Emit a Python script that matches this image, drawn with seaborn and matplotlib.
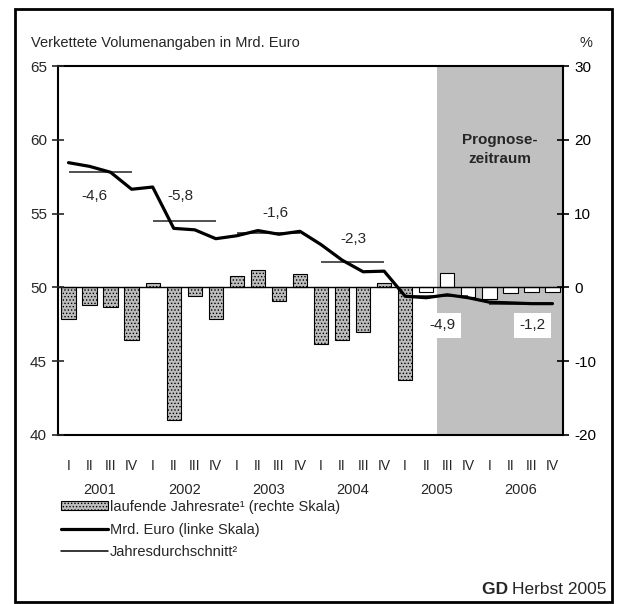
import numpy as np
import pandas as pd
import seaborn as sns
import matplotlib.pyplot as plt
from matplotlib.patches import Patch, Rectangle
from matplotlib.lines import Line2D
import matplotlib.transforms as mtransforms

# data
years = ['2001', '2002', '2003', '2004', '2005', '2006']
quarters = ['I', 'II', 'III', 'IV']
rate = [-4.3, -2.4, -2.6, -7.1,
        0.55, -17.9, -1.2, -4.3,
        1.5, 2.3, -1.8, 1.8,
        -7.7, -7.1, -6.1, 0.55,
        -12.5, -0.6, 2.0, -1.3,
        -1.6, -0.7, -0.6, -0.6]
level = [58.45, 58.2, 57.8, 56.65,
         56.8, 54.0, 53.9, 53.3,
         53.5, 53.85, 53.6, 53.8,
         52.9, 51.85, 51.06, 51.1,
         49.4, 49.3, 49.5, 49.3,
         49.0, 48.95, 48.9, 48.9]
annual_avg = [57.8, 54.5, 53.7, 51.7, 49.4, 48.9]
annual_rate = ['-4,6', '-5,8', '-1,6', '-2,3', '-4,9', '-1,2']
label_x = [1.21, 5.3, 9.81, 13.52, 17.75, 22.03]
label_y = [56.2, 56.2, 55.06, 53.28, 47.45, 47.45]
forecast_start = 18

sns.set_style('white')
plt.rcParams['font.family'] = ['Liberation Sans', 'DejaVu Sans']
plt.rcParams['hatch.linewidth'] = 0.6
plt.rcParams['axes.unicode_minus'] = False

df = pd.DataFrame({'pos': np.arange(24), 'rate': rate, 'level': level})

fig = plt.figure(figsize=(6.17, 6.04), dpi=100)
ax = fig.add_axes([58 / 617, 1 - 435 / 604, 505 / 617, 369 / 604])

# forecast shading
ax.axvspan(forecast_start - 0.5, 23.5, color='#c0c0c0', zorder=0, lw=0)

sns.barplot(data=df, x='pos', y='rate', ax=ax, color='#bdbdbd', width=0.68,
            edgecolor='black', linewidth=0.8, saturation=1, zorder=2)
for i, p in enumerate(ax.patches):
    if i >= forecast_start:
        p.set_facecolor('white')
        p.set_hatch(None)
    else:
        p.set_hatch('.....')
ax.axhline(0, color='black', lw=1, zorder=3)
ax.set_ylim(-20, 30)
ax.set_xlim(-0.5, 23.5)
ax.set_yticks(range(-20, 31, 10))
ax.set_xlabel('')
ax.set_ylabel('')
ax.set_xticks(np.arange(-0.5, 24, 4))
ax.set_xticklabels([])
for s in ax.spines.values():
    s.set_visible(True)
    s.set_color('black')
    s.set_linewidth(1.5)

ax2 = ax.twinx()
sns.lineplot(data=df, x='pos', y='level', ax=ax2, color='black', lw=2.3, zorder=4)
for k, avg in enumerate(annual_avg):
    ax2.hlines(avg, 4 * k, 4 * k + 3, color='#222222', lw=1.1, zorder=3)
ax2.set_ylim(40, 65)
ax2.set_yticks(range(40, 66, 5))
ax2.set_ylabel('')
ax2.set_xlabel('')
for s in ax2.spines.values():
    s.set_visible(False)

# twinx resets sides, so set them afterwards
ax.yaxis.tick_right()
ax2.yaxis.tick_left()
ax.tick_params(axis='both', direction='inout', length=8, width=1.2, colors='black',
               labelsize=11, pad=4)
ax2.tick_params(axis='y', direction='inout', length=8, width=1.2, labelsize=11, pad=4)

for k, txt in enumerate(annual_rate):
    kw = {}
    if k >= 4:
        kw['bbox'] = dict(facecolor='white', edgecolor='none', pad=4)
    ax2.text(label_x[k], label_y[k], txt, ha='center', va='center', fontsize=11, zorder=5, **kw)

# quarter and year labels
trans = mtransforms.blended_transform_factory(ax.transData, fig.transFigure)
for i in range(24):
    ax.text(i, 1 - 466 / 604, quarters[i % 4], transform=trans, ha='center', va='center',
            fontsize=10)
for k, y in enumerate(years):
    ax.text(4 * k + 1.5, 1 - 490 / 604, y, transform=trans, ha='center', va='center',
            fontsize=10.5)

fig.text(31 / 617, 1 - 43 / 604, 'Verkettete Volumenangaben in Mrd. Euro', ha='left', va='center',
         fontsize=10.5)
fig.text(586 / 617, 1 - 43 / 604, '%', ha='center', va='center', fontsize=10.5)
ax.text(20.5, 18.7, 'Prognose-\nzeitraum', ha='center', va='center', fontsize=11,
        fontweight='bold', linespacing=1.4, zorder=5)

handles = [Patch(facecolor='#bdbdbd', edgecolor='black', hatch='.....', lw=0.8),
           Line2D([], [], color='black', lw=2.3),
           Line2D([], [], color='black', lw=1.1)]
labels = ['laufende Jahresrate¹ (rechte Skala)', 'Mrd. Euro (linke Skala)', 'Jahresdurchschnitt²']
fig.legend(handles, labels, loc='upper left', bbox_to_anchor=(55 / 617, 1 - 494 / 604),
           frameon=False, fontsize=10.5, handlelength=3.2, handleheight=0.6,
           handletextpad=0.15, labelspacing=0.6, borderaxespad=0)

# source line: bold "GD" placed just left of the rest
src = fig.text(607 / 617, 1 - 589 / 604, 'Herbst 2005', ha='right', va='center', fontsize=12.5)
fig.add_artist(plt.Annotation('GD ', xy=(0, 0.5), xycoords=src, ha='right', va='center',
                              fontsize=12.5, fontweight='bold'))

fig.patches.append(Rectangle((15 / 617, 1 - 602 / 604), 597 / 617, 593 / 604, fill=False,
                             lw=2, edgecolor='black', transform=fig.transFigure))

fig.savefig('out.png', dpi=100)
